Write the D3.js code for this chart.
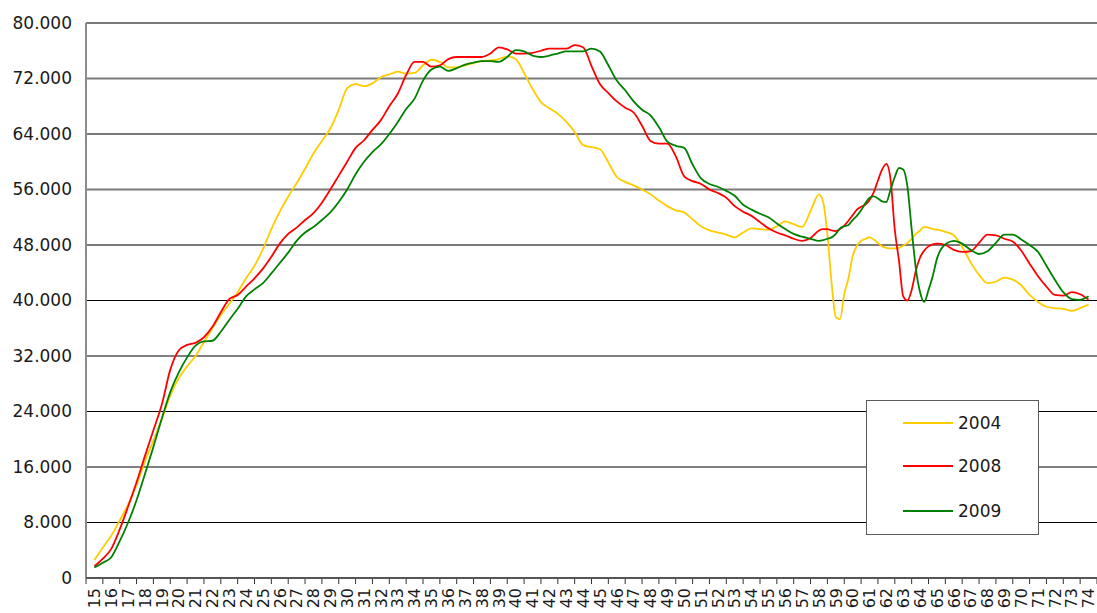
<!DOCTYPE html>
<html><head><meta charset="utf-8">
<script src="https://cdn.jsdelivr.net/npm/d3@7"></script>
<style>html,body{margin:0;padding:0;background:#fff;overflow:hidden}</style>
</head><body><svg id="c" width="1097" height="613"></svg>
<script>
// ---- data ----
const categories = ["15","16","17","18","19","20","21","22","23","24","25","26","27","28","29","30","31","32","33","34","35","36","37","38","39","40","41","42","43","44","45","46","47","48","49","50","51","52","53","54","55","56","57","58","59","60","61","62","63","64","65","66","67","68","69","70","71","72","73","74"];
const yTicks = [0, 8000, 16000, 24000, 32000, 40000, 48000, 56000, 64000, 72000, 80000];
const seriesNames = ["2004", "2008", "2009"];
const seriesColors = ["#FFCC00", "#FF0000", "#008000"];
// sample ages along the x axis, values in thousands
const sampleAges = [15,15.5,16,16.5,17,17.5,18,18.5,19,19.5,
20,20.5,21,21.5,22,22.5,23,23.5,24,24.5,
25,25.5,26,26.5,27,27.5,28,28.5,29,29.5,
30,30.5,31,31.5,32,32.5,33,33.5,34,34.5,
35,35.5,36,36.5,37,37.5,38,38.5,39,39.5,
40,40.5,41,41.5,42,42.5,43,43.5,44,44.5,
45,45.5,46,46.5,47,47.5,48,48.5,49,49.5,
50,50.5,51,51.5,52,52.5,53,53.5,54,54.5,
55,55.5,56,56.5,57,57.5,58,
58.25,58.5,58.75,59,59.25,59.5,59.75,60,60.25,60.5,60.75,61,61.25,61.5,61.75,62,62.25,62.5,62.75,63,63.25,63.5,63.75,64,64.25,64.5,64.75,65,
65.5,66,66.5,67,67.5,68,68.5,69,69.5,70,70.5,71,71.5,72,72.5,73,73.5,74];
const values2004 = [2.6,4.4,6.1,8.3,10.6,13.4,16.8,19.8,22.9,26.3,
28.8,30.5,32.0,34.0,36.0,37.9,39.5,41.2,43.2,45.0,
47.4,50.3,52.8,55.0,56.9,59.0,61.2,63.0,64.8,67.5,
70.6,71.2,70.9,71.3,72.2,72.6,73.0,72.7,72.8,73.9,
74.7,74.4,73.6,73.6,73.9,74.2,74.5,74.6,74.8,75.2,
74.8,72.8,70.5,68.6,67.7,66.9,65.8,64.3,62.4,62.1,
61.8,59.9,57.8,57.1,56.6,56.0,55.3,54.4,53.6,53.0,
52.7,51.7,50.7,50.1,49.8,49.5,49.1,49.8,50.4,50.3,
50.2,50.7,51.4,51.0,50.6,52.9,55.3,
54.2,49.5,42.5,37.6,37.3,40.9,43.2,46.4,47.9,48.6,48.9,49.1,48.8,48.3,47.8,47.6,47.5,47.5,47.6,47.9,48.3,48.9,49.6,50.1,50.6,50.5,50.3,50.2,
49.9,49.4,47.7,45.5,43.7,42.5,42.7,43.3,43.0,42.2,40.8,39.8,39.1,38.9,38.8,38.5,38.9,39.4];
const values2008 = [1.7,2.8,4.2,7.0,10.3,13.8,17.6,21.3,25.0,30.0,
32.8,33.6,33.9,34.7,36.2,38.3,40.2,40.8,42.0,43.2,
44.6,46.3,48.2,49.6,50.5,51.6,52.6,54.1,56.0,58.0,
60.0,62.0,63.1,64.6,66.0,68.0,69.8,72.5,74.4,74.4,
73.7,73.9,74.8,75.1,75.1,75.1,75.1,75.6,76.5,76.2,
75.6,75.6,75.7,76.0,76.3,76.3,76.3,76.8,76.5,73.8,
71.2,69.9,68.7,67.8,67.1,65.2,63.0,62.6,62.6,60.8,
57.9,57.2,56.8,56.0,55.5,54.8,53.6,52.8,52.2,51.3,
50.4,49.8,49.4,48.9,48.6,49.0,50.1,
50.3,50.3,50.1,50.0,50.3,50.8,51.5,52.3,53.1,53.5,53.8,54.5,55.6,57.3,58.9,59.7,57.4,50.2,45.7,40.6,40.0,41.5,44.3,46.2,47.2,47.8,48.1,48.2,
48.0,47.3,47.0,47.1,48.3,49.5,49.4,48.9,48.5,47.2,45.3,43.5,42.0,40.8,40.7,41.2,40.9,40.1];
const values2009 = [1.5,2.2,3.0,5.3,8.0,11.2,15.0,18.9,23.0,26.8,
29.6,31.8,33.5,34.1,34.2,35.5,37.2,38.8,40.6,41.6,
42.5,43.9,45.4,46.9,48.6,49.8,50.6,51.6,52.7,54.2,
56.0,58.2,60.0,61.4,62.5,64.0,65.7,67.6,69.1,71.7,
73.3,73.7,73.1,73.5,74.0,74.3,74.5,74.5,74.4,75.1,
76.1,75.9,75.3,75.1,75.3,75.6,75.9,75.9,75.9,76.3,
75.9,73.9,71.7,70.3,68.7,67.5,66.7,65.0,62.9,62.3,
62.0,59.6,57.6,56.8,56.4,55.8,55.1,53.8,53.1,52.5,
52.0,51.1,50.3,49.6,49.2,48.9,48.6,
48.7,48.9,49.1,49.6,50.4,50.7,50.9,51.6,52.2,53.0,54.0,54.8,55.0,54.7,54.3,54.2,56.0,57.8,59.1,58.9,56.4,50.3,44.6,41.2,39.8,41.5,43.5,46.0,
48.1,48.6,48.2,47.3,46.7,47.1,48.3,49.5,49.5,48.8,48.0,47.0,45.0,43.0,41.2,40.2,40.1,40.6];
const seriesValues = [values2004, values2008, values2009];

// ---- chart ----
const svg = d3.select("#c");
const FONT = "'DejaVu Sans', Verdana, sans-serif";
const pL = 86, pR = 1097, pT = 23, pB = 578;

const x = d3.scaleBand().domain(categories).range([pL, pR]).padding(0);
const xAge = d3.scaleLinear()
  .domain([+categories[0] - 0.5, +categories[categories.length - 1] + 0.5])
  .range([pL, pR]);
const y = d3.scaleLinear().domain([0, 80000]).range([pB, pT]);

const loc = d3.formatLocale({decimal: ",", thousands: ".", grouping: [3], currency: ["", ""]});
const fmt = loc.format(",");

// gridlines
svg.append("g").selectAll("line").data(yTicks.filter(d => d > 0)).join("line")
  .attr("x1", pL).attr("x2", pR)
  .attr("y1", d => y(d)).attr("y2", d => y(d))
  .attr("stroke", d => d >= 48000 ? "#7a7a7a" : "#000")
  .attr("stroke-width", d => d >= 48000 ? 2 : 1);

// y axis
const gy = svg.append("g").attr("transform", `translate(${pL},0)`)
  .call(d3.axisLeft(y).tickValues(yTicks).tickSize(0).tickPadding(14).tickFormat(fmt));
gy.select(".domain").remove();
gy.selectAll("text").attr("font-family", FONT).attr("font-size", 17).attr("fill", "#1a1a1a");
svg.append("line").attr("x1", pL).attr("x2", pL).attr("y1", pT).attr("y2", pB)
  .attr("stroke", "#8c8c8c").attr("stroke-width", 2);

// x axis
const gx = svg.append("g").attr("transform", `translate(0,${pB})`)
  .call(d3.axisBottom(x).tickSize(0).tickPadding(0));
gx.select(".domain").remove();
gx.selectAll("text")
  .attr("transform", "rotate(-90)")
  .attr("text-anchor", "end")
  .attr("x", -10).attr("y", 0).attr("dy", "0.36em")
  .attr("font-family", FONT).attr("font-size", 16).attr("fill", "#1a1a1a");
const bounds = categories.map(c => x(c)).concat([pR]);
svg.append("g").selectAll("line").data(bounds).join("line")
  .attr("x1", d => d).attr("x2", d => d).attr("y1", pB).attr("y2", pB + 6)
  .attr("stroke", "#333").attr("stroke-width", 1);
svg.append("line").attr("x1", pL).attr("x2", pR).attr("y1", pB).attr("y2", pB)
  .attr("stroke", "#555").attr("stroke-width", 2);

// lines
const line = d3.line()
  .x((d, i) => xAge(sampleAges[i]))
  .y(d => y(d * 1000))
  .curve(d3.curveMonotoneX);
svg.append("g").selectAll("path").data(seriesValues).join("path")
  .attr("d", d => line(d))
  .attr("fill", "none")
  .attr("stroke", (d, i) => seriesColors[i])
  .attr("stroke-width", 1.8)
  .attr("stroke-linejoin", "round");

// legend
const lg = svg.append("g");
lg.append("rect").attr("x", 866.5).attr("y", 400.5).attr("width", 172).attr("height", 134)
  .attr("fill", "#fff").attr("stroke", "#5a5a5a").attr("stroke-width", 1);
const items = lg.selectAll("g.item").data(seriesNames).join("g")
  .attr("transform", (d, i) => `translate(0,${[423, 466, 511][i]})`);
items.append("line").attr("x1", 903).attr("x2", 953).attr("y1", 0).attr("y2", 0)
  .attr("stroke", (d, i) => seriesColors[i]).attr("stroke-width", 1.8);
items.append("text").attr("x", 958).attr("y", 0).attr("dy", "0.36em")
  .attr("font-family", FONT).attr("font-size", 17).attr("fill", "#1a1a1a")
  .text(d => d);
</script>
</body></html>
